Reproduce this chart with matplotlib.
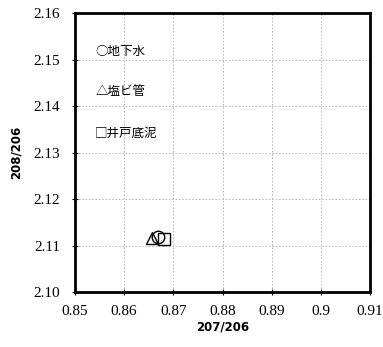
import matplotlib
matplotlib.use("Agg")
import matplotlib.pyplot as plt

# データ
x_vals = [0.8669, 0.8657, 0.8681]
y_vals = [2.1118, 2.1116, 2.1114]
markers = ["o", "^", "s"]
labels = ["○地下水", "△塩ビ管", "□井戸底泥"]
label_y = [2.1518, 2.1431, 2.1341]
xticks = [0.85, 0.86, 0.87, 0.88, 0.89, 0.90, 0.91]
xtick_labels = ["0.85", "0.86", "0.87", "0.88", "0.89", "0.9", "0.91"]
yticks = [2.10, 2.11, 2.12, 2.13, 2.14, 2.15, 2.16]
ytick_labels = ["2.10", "2.11", "2.12", "2.13", "2.14", "2.15", "2.16"]

fig = plt.figure(figsize=(3.83, 3.47), dpi=100)
ax = fig.add_axes([75 / 383, 1 - 292 / 347, 295 / 383, 279 / 347])

for x, y, m in zip(x_vals, y_vals, markers):
    ax.plot(x, y, marker=m, ms=9, mfc="none", mec="black", mew=1.0, ls="none")

for t, y in zip(labels, label_y):
    ax.text(0.8541, y, t, fontsize=9, va="center", ha="left",
            family=["Noto Sans CJK JP", "DejaVu Sans"])

ax.set_xlim(0.85, 0.91)
ax.set_ylim(2.10, 2.16)
ax.set_xticks(xticks)
ax.set_xticklabels(xtick_labels, family="Liberation Serif", fontsize=11)
ax.set_yticks(yticks)
ax.set_yticklabels(ytick_labels, family="Liberation Serif", fontsize=11)
ax.tick_params(direction="inout", length=5, width=0.8)
ax.tick_params(axis="x", pad=7)
ax.tick_params(axis="y", pad=8)
ax.grid(True, color="#b0b0b0", ls=(0, (2, 2)), lw=0.6)

for s in ax.spines.values():
    s.set_linewidth(2)

ax.set_xlabel("207/206", fontsize=8.5, fontweight="bold", labelpad=2)
ax.set_ylabel("208/206", fontsize=8.5, fontweight="bold", labelpad=8)

fig.savefig("out.png", dpi=100)
